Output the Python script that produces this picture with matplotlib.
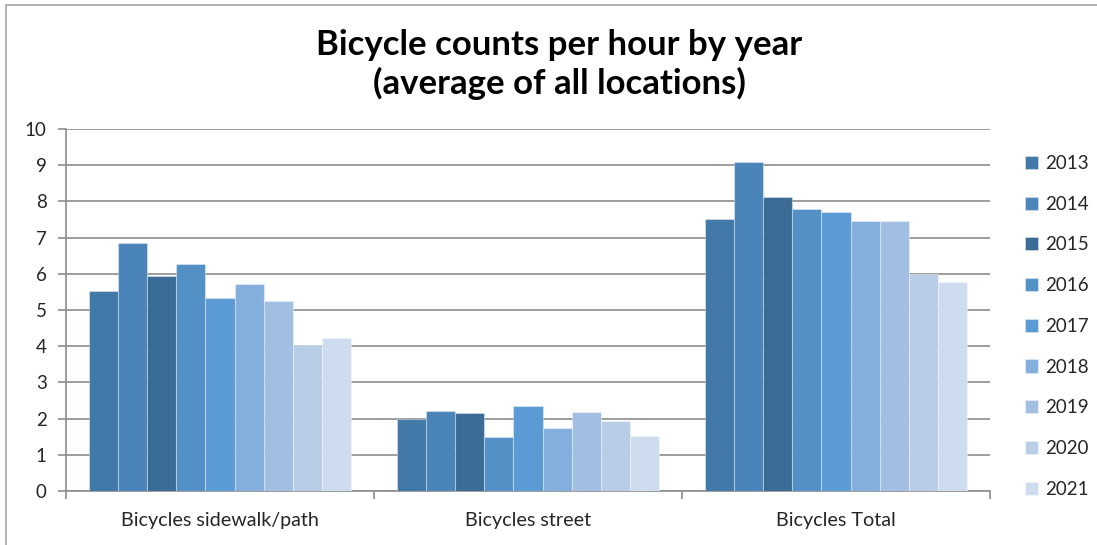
import numpy as np
import matplotlib.pyplot as plt
from matplotlib.patches import Rectangle

categories = ['Bicycles sidewalk/path', 'Bicycles street', 'Bicycles Total']
years = ['2013', '2014', '2015', '2016', '2017', '2018', '2019', '2020', '2021']
sidewalk = [5.52, 6.85, 5.95, 6.28, 5.32, 5.71, 5.26, 4.02, 4.22]
street = [1.98, 2.20, 2.15, 1.49, 2.35, 1.73, 2.17, 1.93, 1.52]
total = [7.52, 9.08, 8.11, 7.78, 7.70, 7.46, 7.45, 5.99, 5.77]
colors = ['#4279A8', '#4A84B9', '#3B6C95', '#5390C6', '#5B9BD5',
          '#84AFDC', '#A2BEE2', '#B9CDE6', '#CDDCEE']

plt.rcParams['font.family'] = ['Lato', 'DejaVu Sans']

fig = plt.figure(figsize=(10.97, 5.45), dpi=100)
ax = fig.add_axes([0.0602, 0.0991, 0.8423, 0.6642])

# outer chart border (cut off at right and bottom like the reference)
fig.patches.append(Rectangle((6 / 1097, -0.1), 1.2, 1 - 5 / 545 + 0.1,
                             transform=fig.transFigure, fill=False,
                             edgecolor='#A6A6A6', linewidth=1.2))

x = np.arange(len(categories))
w = 0.0948
values = np.array([sidewalk, street, total])
for i, year in enumerate(years):
    ax.bar(x + (i - 4) * w, values[:, i], width=w, color=colors[i],
           edgecolor=(1, 1, 1, 0.35), linewidth=0.8, label=year, zorder=3)

ax.set_xlim(-0.5, 2.5)
ax.set_ylim(0, 10)
ax.set_yticks(range(0, 11))
ax.yaxis.grid(True, color='#8C8C8C', linewidth=1.2, zorder=0)
ax.set_axisbelow(True)

for s in ['top', 'right']:
    ax.spines[s].set_visible(False)
for s in ['left', 'bottom']:
    ax.spines[s].set_color('#8C8C8C')
    ax.spines[s].set_linewidth(1.2)

ax.set_xticks(x)
ax.set_xticklabels(categories, fontsize=14.2, color='#262626')
ax.set_xticks([-0.5, 0.5, 1.5, 2.5], minor=True)
ax.tick_params(axis='x', which='major', length=0, pad=15)
ax.tick_params(axis='x', which='minor', length=6, width=1.2, color='#8C8C8C')
ax.tick_params(axis='y', length=6, width=1.2, color='#8C8C8C',
               labelsize=13.5, labelcolor='#262626', pad=8)

fig.text(0.51, 0.882, 'Bicycle counts per hour by year\n(average of all locations)',
         ha='center', va='center', fontsize=25, fontweight='bold',
         linespacing=1.2, color='black')

ax.legend(loc='upper left', bbox_to_anchor=(1025 / 1097, 1 - 155 / 545),
          bbox_transform=fig.transFigure, frameon=False, fontsize=13.5,
          labelspacing=1.265, handlelength=0.7, handleheight=0.7,
          handletextpad=0.35, borderpad=0, borderaxespad=0,
          labelcolor='#262626')

fig.savefig('out.png', dpi=100)
